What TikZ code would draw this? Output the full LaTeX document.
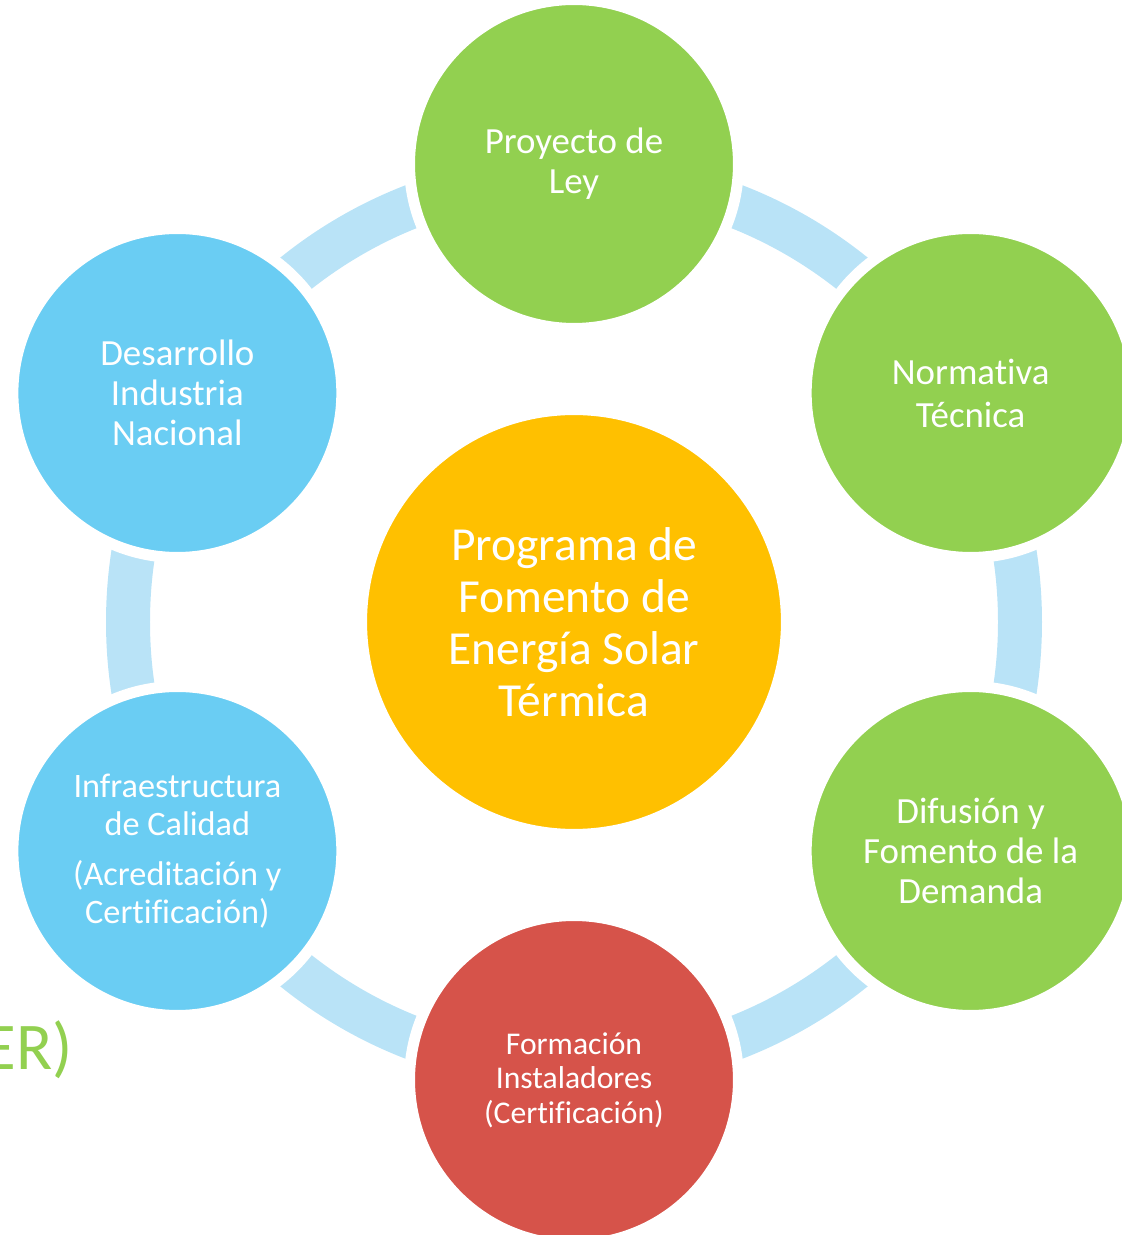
\documentclass[tikz,border=0pt]{standalone}
\usepackage{fontspec}
\setmainfont{Carlito}[Ligatures=CommonOff]
\definecolor{leaf}{HTML}{92D050}
\definecolor{sky}{HTML}{6ACDF3}
\definecolor{brick}{HTML}{D6534A}
\definecolor{amber}{HTML}{FFC000}
\definecolor{halo}{HTML}{B9E3F7}
\tikzset{
  stage/.style={circle, draw=white, line width=0.22cm, minimum size=6.58cm,
    inner sep=0pt, align=center, text=white,
    font=\fontsize{21}{22.8}\selectfont},
  hub/.style={stage, minimum size=8.5cm, font=\fontsize{27}{29.6}\selectfont},
  ring/.style={draw=halo, line width=0.88cm}
}
\begin{document}
\begin{tikzpicture}[x=0.02cm, y=0.02cm]
  \useasboundingbox (0,0) rectangle (1122,1235);
  \node[anchor=base east, text=leaf, font=\fontsize{38}{44}\selectfont]
    (tail) at (79,165) {ER)};
  \begin{scope}[shift={(574,613)}]
    \draw[ring] (0,0) circle [radius=446];
    \node[hub, fill=amber] (prog) at (0,0)
      {Programa de\\Fomento de\\Energía Solar\\Térmica};
    \draw
      (90:458) node[stage, fill=leaf] (ley) {Proyecto de\\Ley}
      (30:458) node[stage, fill=leaf, font=\fontsize{21}{24.5}\selectfont] (norma)
        {Normativa\\Técnica}
      (-30:458) node[stage, fill=leaf] (difu) {Difusión y\\Fomento de la\\Demanda}
      (-90:458) node[stage, fill=brick, font=\fontsize{18}{19.6}\selectfont] (forma)
        {Formación\\Instaladores\\(Certificación)}
      (210:458) node[stage, fill=sky, font=\fontsize{19.5}{21.6}\selectfont] (infra)
        {Infraestructura\\de Calidad\\[0.24cm](Acreditación y\\Certificación)}
      (150:458) node[stage, fill=sky] (indu) {Desarrollo\\Industria\\Nacional};
  \end{scope}
\end{tikzpicture}
\end{document}
